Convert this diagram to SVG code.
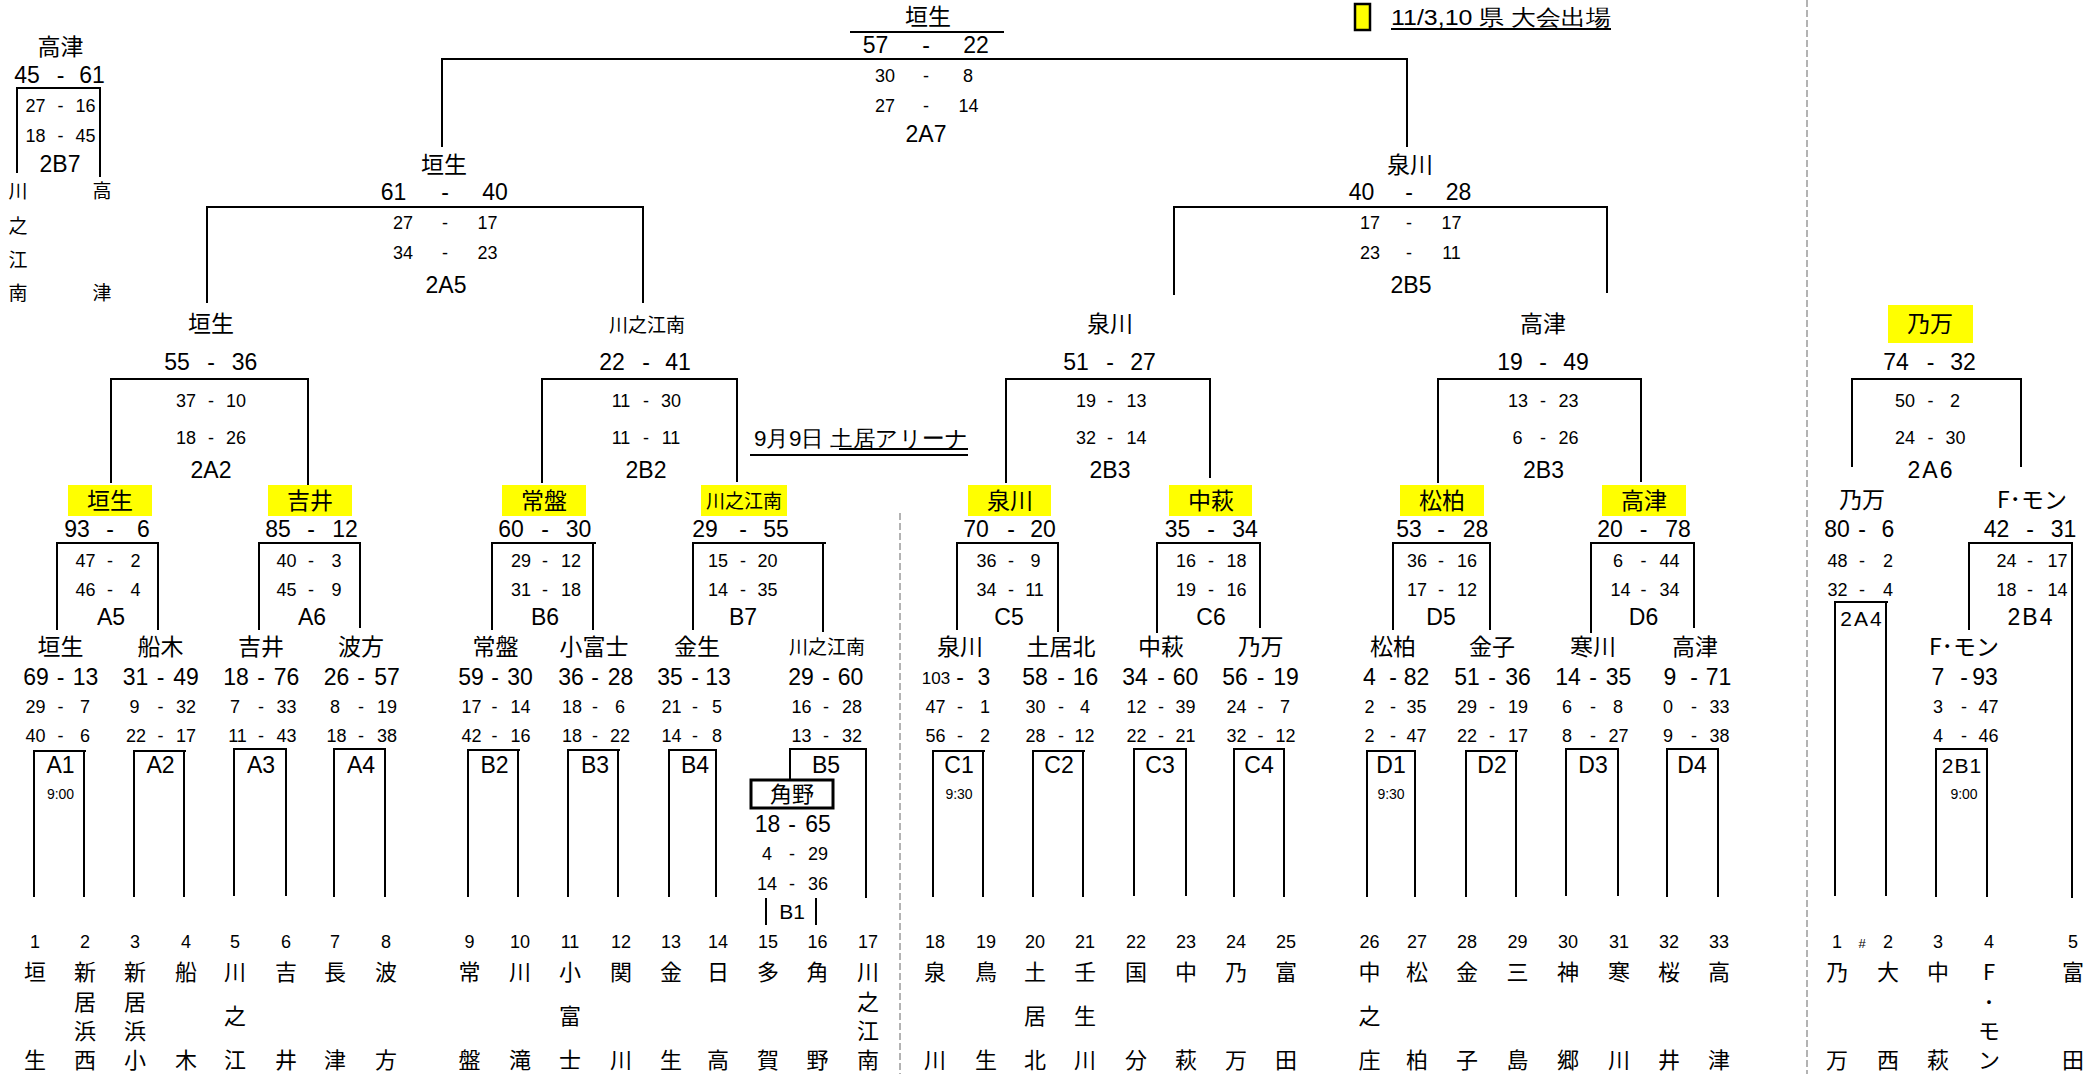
<svg xmlns="http://www.w3.org/2000/svg" width="2095" height="1074" viewBox="0 0 2095 1074">
<style>
text{fill:#000}
.n{font-family:"Liberation Sans Narrow","Liberation Sans",Arial,sans-serif;text-anchor:middle}
.b{font-size:23px}
.s{font-size:18px}
.t{font-size:14px}
.j{font-family:"Noto Sans CJK JP","Liberation Sans",sans-serif;font-size:23px;text-anchor:middle}
.js{font-family:"Noto Sans CJK JP","Liberation Sans",sans-serif;font-size:19px;text-anchor:middle}
.v{font-family:"Noto Sans CJK JP","Liberation Sans",sans-serif;font-size:22px;text-anchor:middle}
.ln{stroke:#000;stroke-width:2;fill:none}
.hl{fill:#ffff00}
.dv{stroke:#9a9a9a;stroke-width:1.5;stroke-dasharray:7 3;fill:none}
</style>
<rect width="2095" height="1074" fill="#fff"/>

<g id="dividers">
<path class="dv" d="M1807 0V1074"/>
<path class="dv" d="M900 513V1074"/>
</g>

<g id="legend">
<rect x="1355" y="4" width="15" height="26" fill="#ffff00" stroke="#000" stroke-width="2.5"/>
<text class="n" style="font-size:22px;text-anchor:start" x="1391" y="25" textLength="220" lengthAdjust="spacingAndGlyphs">11/3,10  県 大会出場</text>
<path class="ln" d="M1391 29H1611" stroke-width="1.8"/>
</g>

<g id="venue">
<text class="n" style="font-size:22px;text-anchor:start" x="754" y="446" textLength="214" lengthAdjust="spacingAndGlyphs">9月9日  土居アリーナ</text>
<path class="ln" d="M839 449H968" stroke-width="1.5"/>
<path class="ln" d="M750 455H968" stroke-width="3"/>
</g>

<g id="connectors">
<path class="ln" d="M442 147V59H1407V147" stroke-width="2.5"/>
<path class="ln" d="M17 173V88H101M100 88V177"/>
<path class="ln" d="M207 303V207H643V303"/>
<path class="ln" d="M1174 295V207H1607V293"/>
<path class="ln" d="M111 483V379H308V485"/>
<path class="ln" d="M542 483V379H737V482"/>
<path class="ln" d="M1006 483V379H1210V478"/>
<path class="ln" d="M1438 483V379H1641V482"/>
<path class="ln" d="M1852 467V379H2021V467"/>
<path class="ln" d="M57 630V543H158V630"/>
<path class="ln" d="M259 630V543H360V628"/>
<path class="ln" d="M492 630V543H596M593 543V630"/>
<path class="ln" d="M693 630V543H826M823 543V632"/>
<path class="ln" d="M957 630V543H1058V632"/>
<path class="ln" d="M1157 633V543H1260V628"/>
<path class="ln" d="M1393 630V543H1490V630"/>
<path class="ln" d="M1591 633V543H1694V628"/>
<path class="ln" d="M1835 896V602H1888M1886 602V896"/>
<path class="ln" d="M1969 630V543H2072V898"/>
<path class="ln" d="M34 897V751H86M84 751V897"/>
<path class="ln" d="M134 897V751H186M184 751V897"/>
<path class="ln" d="M234 896V749H286V896"/>
<path class="ln" d="M334 897V749H385V897"/>
<path class="ln" d="M468 897V750H520M518 750V897"/>
<path class="ln" d="M568 897V750H620M618 750V897"/>
<path class="ln" d="M669 897V750H717M716 750V897"/>
<path class="ln" d="M790 779V749H867M866 749V898"/>
<path class="ln" d="M766 898V925M816 898V925"/>
<path class="ln" d="M933 897V751H985M983 751V897"/>
<path class="ln" d="M1033 897V751H1085M1083 751V897"/>
<path class="ln" d="M1134 896V749H1186V896"/>
<path class="ln" d="M1234 897V749H1284V897"/>
<path class="ln" d="M1367 897V751H1416M1415 751V897"/>
<path class="ln" d="M1466 897V751H1518M1516 751V897"/>
<path class="ln" d="M1566 896V749H1618V896"/>
<path class="ln" d="M1667 897V749H1718V897"/>
<path class="ln" d="M1936 897V749H1987V897"/>
</g>

<g id="final">
<text class="j" x="928" y="25">垣生</text>
<path class="ln" d="M850 32H1004" stroke-width="3"/>
<text class="n b" y="53"><tspan x="875.5">57</tspan><tspan x="926">-</tspan><tspan x="976">22</tspan></text>
<text class="n s" y="82"><tspan x="885">30</tspan><tspan x="926">-</tspan><tspan x="968">8</tspan></text>
<text class="n s" y="112"><tspan x="885">27</tspan><tspan x="926">-</tspan><tspan x="968.5">14</tspan></text>
<text class="n b" x="926" y="142">2A7</text>
</g>

<g id="m2B7">
<text class="j" x="60.5" y="55">高津</text>
<text class="n b" y="83"><tspan x="27">45</tspan><tspan x="60.5">-</tspan><tspan x="92">61</tspan></text>
<text class="n s" y="112"><tspan x="35.5">27</tspan><tspan x="60.5">-</tspan><tspan x="85.5">16</tspan></text>
<text class="n s" y="142"><tspan x="35.5">18</tspan><tspan x="60.5">-</tspan><tspan x="85.5">45</tspan></text>
<text class="n b" x="60" y="172">2B7</text>
<text class="js"><tspan x="18" y="198">川</tspan><tspan x="18" y="233">之</tspan><tspan x="18" y="267">江</tspan><tspan x="18" y="300">南</tspan></text>
<text class="js"><tspan x="102" y="198">高</tspan><tspan x="102" y="300">津</tspan></text>
</g>

<g id="m2A5">
<text class="j" x="444" y="173">垣生</text>
<text class="n b" y="200"><tspan x="393.5">61</tspan><tspan x="445">-</tspan><tspan x="495">40</tspan></text>
<text class="n s" y="229"><tspan x="403">27</tspan><tspan x="445">-</tspan><tspan x="487.5">17</tspan></text>
<text class="n s" y="259"><tspan x="403">34</tspan><tspan x="445">-</tspan><tspan x="487.5">23</tspan></text>
<text class="n b" x="446" y="293">2A5</text>
</g>

<g id="m2B5">
<text class="j" x="1410" y="173">泉川</text>
<text class="n b" y="200"><tspan x="1361.5">40</tspan><tspan x="1409">-</tspan><tspan x="1458.5">28</tspan></text>
<text class="n s" y="229"><tspan x="1370">17</tspan><tspan x="1409">-</tspan><tspan x="1451.5">17</tspan></text>
<text class="n s" y="259"><tspan x="1370">23</tspan><tspan x="1409">-</tspan><tspan x="1451.5">11</tspan></text>
<text class="n b" x="1411" y="293">2B5</text>
</g>

<g id="m2A2">
<text class="j" x="211" y="332">垣生</text>
<text class="n b" y="370"><tspan x="177">55</tspan><tspan x="211">-</tspan><tspan x="244.5">36</tspan></text>
<text class="n s" y="407"><tspan x="186">37</tspan><tspan x="211">-</tspan><tspan x="236">10</tspan></text>
<text class="n s" y="444"><tspan x="186">18</tspan><tspan x="211">-</tspan><tspan x="236">26</tspan></text>
<text class="n b" x="211" y="478">2A2</text>
</g>

<g id="m2B2">
<text class="js" x="647" y="332">川之江南</text>
<text class="n b" y="370"><tspan x="612">22</tspan><tspan x="646">-</tspan><tspan x="678">41</tspan></text>
<text class="n s" y="407"><tspan x="621">11</tspan><tspan x="646">-</tspan><tspan x="671">30</tspan></text>
<text class="n s" y="444"><tspan x="621">11</tspan><tspan x="646">-</tspan><tspan x="671">11</tspan></text>
<text class="n b" x="646" y="478">2B2</text>
</g>

<g id="m2B3a">
<text class="j" x="1110" y="332">泉川</text>
<text class="n b" y="370"><tspan x="1076">51</tspan><tspan x="1110">-</tspan><tspan x="1143">27</tspan></text>
<text class="n s" y="407"><tspan x="1086">19</tspan><tspan x="1110">-</tspan><tspan x="1136.5">13</tspan></text>
<text class="n s" y="444"><tspan x="1086">32</tspan><tspan x="1110">-</tspan><tspan x="1136.5">14</tspan></text>
<text class="n b" x="1110" y="478">2B3</text>
</g>

<g id="m2B3b">
<text class="j" x="1543" y="332">高津</text>
<text class="n b" y="370"><tspan x="1510">19</tspan><tspan x="1543">-</tspan><tspan x="1576">49</tspan></text>
<text class="n s" y="407"><tspan x="1518">13</tspan><tspan x="1543">-</tspan><tspan x="1568.5">23</tspan></text>
<text class="n s" y="444"><tspan x="1517.5">6</tspan><tspan x="1543">-</tspan><tspan x="1568.5">26</tspan></text>
<text class="n b" x="1543.5" y="478">2B3</text>
</g>

<g id="m2A6">
<rect class="hl" x="1888" y="305" width="85" height="38"/>
<text class="j" x="1930" y="332">乃万</text>
<text class="n b" y="370"><tspan x="1896">74</tspan><tspan x="1930.5">-</tspan><tspan x="1963">32</tspan></text>
<text class="n s" y="407"><tspan x="1905">50</tspan><tspan x="1930.5">-</tspan><tspan x="1955">2</tspan></text>
<text class="n s" y="444"><tspan x="1905">24</tspan><tspan x="1930.5">-</tspan><tspan x="1955.5">30</tspan></text>
<text class="n b" x="1931" y="478" letter-spacing="2">2A6</text>
</g>

<g id="mA5">
<rect class="hl" x="68" y="485" width="84" height="31"/>
<text class="j" x="110" y="509">垣生</text>
<text class="n b" y="537"><tspan x="77">93</tspan><tspan x="110">-</tspan><tspan x="143.5">6</tspan></text>
<text class="n s" y="567"><tspan x="85.5">47</tspan><tspan x="110">-</tspan><tspan x="135.5">2</tspan></text>
<text class="n s" y="596"><tspan x="85.5">46</tspan><tspan x="110">-</tspan><tspan x="135.5">4</tspan></text>
<text class="n b" x="111" y="625">A5</text>
</g>
<g id="mA6">
<rect class="hl" x="268" y="485" width="84" height="31"/>
<text class="j" x="310" y="509">吉井</text>
<text class="n b" y="537"><tspan x="278">85</tspan><tspan x="311">-</tspan><tspan x="345">12</tspan></text>
<text class="n s" y="567"><tspan x="286.5">40</tspan><tspan x="311">-</tspan><tspan x="336.5">3</tspan></text>
<text class="n s" y="596"><tspan x="286.5">45</tspan><tspan x="311">-</tspan><tspan x="336.5">9</tspan></text>
<text class="n b" x="312" y="625">A6</text>
</g>
<g id="mB6">
<rect class="hl" x="502" y="485" width="84" height="31"/>
<text class="j" x="544" y="509">常盤</text>
<text class="n b" y="537"><tspan x="511">60</tspan><tspan x="545">-</tspan><tspan x="578.5">30</tspan></text>
<text class="n s" y="567"><tspan x="521">29</tspan><tspan x="545">-</tspan><tspan x="571">12</tspan></text>
<text class="n s" y="596"><tspan x="521">31</tspan><tspan x="545">-</tspan><tspan x="571">18</tspan></text>
<text class="n b" x="545" y="625">B6</text>
</g>
<g id="mB7">
<rect class="hl" x="701" y="485" width="86" height="31"/>
<text class="js" x="744" y="508">川之江南</text>
<text class="n b" y="537"><tspan x="705">29</tspan><tspan x="743">-</tspan><tspan x="776">55</tspan></text>
<text class="n s" y="567"><tspan x="718">15</tspan><tspan x="743">-</tspan><tspan x="767.5">20</tspan></text>
<text class="n s" y="596"><tspan x="718">14</tspan><tspan x="743">-</tspan><tspan x="767.5">35</tspan></text>
<text class="n b" x="743" y="625">B7</text>
</g>
<g id="mC5">
<rect class="hl" x="968" y="485" width="83" height="31"/>
<text class="j" x="1010" y="509">泉川</text>
<text class="n b" y="537"><tspan x="976">70</tspan><tspan x="1011">-</tspan><tspan x="1043">20</tspan></text>
<text class="n s" y="567"><tspan x="986.5">36</tspan><tspan x="1011">-</tspan><tspan x="1035.5">9</tspan></text>
<text class="n s" y="596"><tspan x="986.5">34</tspan><tspan x="1011">-</tspan><tspan x="1034.5">11</tspan></text>
<text class="n b" x="1009" y="625">C5</text>
</g>
<g id="mC6">
<rect class="hl" x="1169" y="485" width="83" height="31"/>
<text class="j" x="1211" y="509">中萩</text>
<text class="n b" y="537"><tspan x="1177.5">35</tspan><tspan x="1211">-</tspan><tspan x="1245">34</tspan></text>
<text class="n s" y="567"><tspan x="1186">16</tspan><tspan x="1211">-</tspan><tspan x="1236.5">18</tspan></text>
<text class="n s" y="596"><tspan x="1186">19</tspan><tspan x="1211">-</tspan><tspan x="1236.5">16</tspan></text>
<text class="n b" x="1211" y="625">C6</text>
</g>
<g id="mD5">
<rect class="hl" x="1400" y="485" width="84" height="31"/>
<text class="j" x="1442" y="509">松柏</text>
<text class="n b" y="537"><tspan x="1409">53</tspan><tspan x="1441">-</tspan><tspan x="1475.5">28</tspan></text>
<text class="n s" y="567"><tspan x="1417">36</tspan><tspan x="1441">-</tspan><tspan x="1467">16</tspan></text>
<text class="n s" y="596"><tspan x="1417">17</tspan><tspan x="1441">-</tspan><tspan x="1467">12</tspan></text>
<text class="n b" x="1441" y="625">D5</text>
</g>
<g id="mD6">
<rect class="hl" x="1602" y="485" width="84" height="31"/>
<text class="j" x="1644" y="509">高津</text>
<text class="n b" y="537"><tspan x="1610">20</tspan><tspan x="1643.5">-</tspan><tspan x="1678">78</tspan></text>
<text class="n s" y="567"><tspan x="1618">6</tspan><tspan x="1643.5">-</tspan><tspan x="1669.5">44</tspan></text>
<text class="n s" y="596"><tspan x="1620.5">14</tspan><tspan x="1643.5">-</tspan><tspan x="1669.5">34</tspan></text>
<text class="n b" x="1643.5" y="625">D6</text>
</g>
<g id="m2A4">
<text class="j" x="1862" y="508">乃万</text>
<text class="n b" y="537"><tspan x="1837">80</tspan><tspan x="1862">-</tspan><tspan x="1888">6</tspan></text>
<text class="n s" y="567"><tspan x="1837.5">48</tspan><tspan x="1862">-</tspan><tspan x="1888">2</tspan></text>
<text class="n s" y="596"><tspan x="1837.5">32</tspan><tspan x="1862">-</tspan><tspan x="1888">4</tspan></text>
<text class="n" style="font-size:21px" x="1862" y="626" letter-spacing="2">2A4</text>
</g>
<g id="m2B4">
<text class="j" x="2032" y="508">F･モン</text>
<text class="n b" y="537"><tspan x="1996.5">42</tspan><tspan x="2030">-</tspan><tspan x="2063.5">31</tspan></text>
<text class="n s" y="567"><tspan x="2006.5">24</tspan><tspan x="2030">-</tspan><tspan x="2057.5">17</tspan></text>
<text class="n s" y="596"><tspan x="2006.5">18</tspan><tspan x="2030">-</tspan><tspan x="2057.5">14</tspan></text>
<text class="n b" x="2031" y="625" letter-spacing="2">2B4</text>
</g>

<g id="round1">
<text class="j" y="655"><tspan x="60.5">垣生</tspan><tspan x="160.5">船木</tspan><tspan x="261">吉井</tspan><tspan x="361">波方</tspan><tspan x="495.5">常盤</tspan><tspan x="594">小富士</tspan><tspan x="697">金生</tspan><tspan x="960">泉川</tspan><tspan x="1061">土居北</tspan><tspan x="1161">中萩</tspan><tspan x="1260.5">乃万</tspan><tspan x="1393">松柏</tspan><tspan x="1492">金子</tspan><tspan x="1593">寒川</tspan><tspan x="1695">高津</tspan><tspan x="1964">F･モン</tspan></text>
<text class="js" x="827" y="654">川之江南</text>
<text class="n b" y="685"><tspan x="36">69</tspan><tspan x="60.5">-</tspan><tspan x="85.5">13</tspan><tspan x="135.5">31</tspan><tspan x="160.5">-</tspan><tspan x="186">49</tspan><tspan x="236">18</tspan><tspan x="261">-</tspan><tspan x="286.5">76</tspan><tspan x="336.5">26</tspan><tspan x="361">-</tspan><tspan x="387">57</tspan><tspan x="471">59</tspan><tspan x="495">-</tspan><tspan x="520">30</tspan><tspan x="571">36</tspan><tspan x="595">-</tspan><tspan x="620.5">28</tspan><tspan x="670">35</tspan><tspan x="695">-</tspan><tspan x="718">13</tspan><tspan x="801">29</tspan><tspan x="826">-</tspan><tspan x="850.5">60</tspan><tspan x="960">-</tspan><tspan x="984">3</tspan><tspan x="1035">58</tspan><tspan x="1061">-</tspan><tspan x="1085.5">16</tspan><tspan x="1135">34</tspan><tspan x="1161">-</tspan><tspan x="1185.5">60</tspan><tspan x="1235">56</tspan><tspan x="1260.5">-</tspan><tspan x="1286">19</tspan><tspan x="1369.5">4</tspan><tspan x="1393">-</tspan><tspan x="1416.5">82</tspan><tspan x="1467">51</tspan><tspan x="1492">-</tspan><tspan x="1518">36</tspan><tspan x="1568">14</tspan><tspan x="1593">-</tspan><tspan x="1618.5">35</tspan><tspan x="1670">9</tspan><tspan x="1694">-</tspan><tspan x="1718.5">71</tspan><tspan x="1938">7</tspan><tspan x="1964">-</tspan><tspan x="1985">93</tspan></text>
<text class="n" style="font-size:17px" x="936" y="684">103</text>
<text class="n s" y="713"><tspan x="35.5">29</tspan><tspan x="60.5">-</tspan><tspan x="85">7</tspan><tspan x="134.5">9</tspan><tspan x="160.5">-</tspan><tspan x="186">32</tspan><tspan x="235">7</tspan><tspan x="261">-</tspan><tspan x="286.5">33</tspan><tspan x="335">8</tspan><tspan x="361">-</tspan><tspan x="387">19</tspan><tspan x="471.5">17</tspan><tspan x="494.6">-</tspan><tspan x="520.5">14</tspan><tspan x="572">18</tspan><tspan x="595">-</tspan><tspan x="620">6</tspan><tspan x="671.5">21</tspan><tspan x="695">-</tspan><tspan x="717">5</tspan><tspan x="801.5">16</tspan><tspan x="826">-</tspan><tspan x="852">28</tspan><tspan x="935.5">47</tspan><tspan x="960">-</tspan><tspan x="985">1</tspan><tspan x="1035.5">30</tspan><tspan x="1061">-</tspan><tspan x="1085">4</tspan><tspan x="1136.5">12</tspan><tspan x="1161">-</tspan><tspan x="1185.5">39</tspan><tspan x="1236.5">24</tspan><tspan x="1260.5">-</tspan><tspan x="1285">7</tspan><tspan x="1369.5">2</tspan><tspan x="1393">-</tspan><tspan x="1416.5">35</tspan><tspan x="1467">29</tspan><tspan x="1492">-</tspan><tspan x="1518">19</tspan><tspan x="1567">6</tspan><tspan x="1593">-</tspan><tspan x="1618">8</tspan><tspan x="1668">0</tspan><tspan x="1694">-</tspan><tspan x="1719.5">33</tspan><tspan x="1938">3</tspan><tspan x="1964">-</tspan><tspan x="1988.5">47</tspan></text>
<text class="n s" y="742"><tspan x="35.5">40</tspan><tspan x="60.5">-</tspan><tspan x="85">6</tspan><tspan x="136">22</tspan><tspan x="160.5">-</tspan><tspan x="186">17</tspan><tspan x="237.5">11</tspan><tspan x="261">-</tspan><tspan x="286.5">43</tspan><tspan x="336.5">18</tspan><tspan x="361">-</tspan><tspan x="387">38</tspan><tspan x="471.5">42</tspan><tspan x="494.6">-</tspan><tspan x="520.5">16</tspan><tspan x="572">18</tspan><tspan x="595">-</tspan><tspan x="620">22</tspan><tspan x="671.5">14</tspan><tspan x="695">-</tspan><tspan x="717">8</tspan><tspan x="801.5">13</tspan><tspan x="826">-</tspan><tspan x="852">32</tspan><tspan x="935.5">56</tspan><tspan x="960">-</tspan><tspan x="985">2</tspan><tspan x="1035.5">28</tspan><tspan x="1061">-</tspan><tspan x="1084.5">12</tspan><tspan x="1136.5">22</tspan><tspan x="1161">-</tspan><tspan x="1185.5">21</tspan><tspan x="1236.5">32</tspan><tspan x="1260.5">-</tspan><tspan x="1285.5">12</tspan><tspan x="1369.5">2</tspan><tspan x="1393">-</tspan><tspan x="1416.5">47</tspan><tspan x="1467">22</tspan><tspan x="1492">-</tspan><tspan x="1518">17</tspan><tspan x="1567">8</tspan><tspan x="1593">-</tspan><tspan x="1618.5">27</tspan><tspan x="1668">9</tspan><tspan x="1694">-</tspan><tspan x="1719.5">38</tspan><tspan x="1938">4</tspan><tspan x="1964">-</tspan><tspan x="1988.5">46</tspan></text>
<text class="n b" y="773"><tspan x="60.5">A1</tspan><tspan x="160.5">A2</tspan><tspan x="261">A3</tspan><tspan x="361">A4</tspan><tspan x="494.6">B2</tspan><tspan x="595">B3</tspan><tspan x="695">B4</tspan><tspan x="826">B5</tspan><tspan x="959">C1</tspan><tspan x="1059">C2</tspan><tspan x="1160">C3</tspan><tspan x="1259">C4</tspan><tspan x="1391">D1</tspan><tspan x="1492">D2</tspan><tspan x="1593">D3</tspan><tspan x="1692">D4</tspan></text>
<text class="n" style="font-size:21px" x="1962" y="773" letter-spacing="1">2B1</text>
<text class="n t" y="799"><tspan x="60.5">9:00</tspan><tspan x="959">9:30</tspan><tspan x="1391">9:30</tspan><tspan x="1964">9:00</tspan></text>
</g>

<g id="mB1">
<rect x="751" y="780" width="82" height="28" fill="none" stroke="#000" stroke-width="3"/>
<text class="j" style="font-size:22px" x="792" y="802">角野</text>
<text class="n b" y="832"><tspan x="767.5">18</tspan><tspan x="792">-</tspan><tspan x="818">65</tspan></text>
<text class="n s" y="860"><tspan x="767">4</tspan><tspan x="792">-</tspan><tspan x="818">29</tspan></text>
<text class="n s" y="890"><tspan x="767">14</tspan><tspan x="792">-</tspan><tspan x="818">36</tspan></text>
<text class="n" style="font-size:21px" x="792" y="919">B1</text>
</g>

<g id="numbers">
<text class="n s" y="948"><tspan x="35">1</tspan><tspan x="85">2</tspan><tspan x="135">3</tspan><tspan x="186">4</tspan><tspan x="235">5</tspan><tspan x="286">6</tspan><tspan x="335">7</tspan><tspan x="386">8</tspan><tspan x="469.5">9</tspan><tspan x="520">10</tspan><tspan x="570">11</tspan><tspan x="621">12</tspan><tspan x="671">13</tspan><tspan x="718">14</tspan><tspan x="768">15</tspan><tspan x="817.5">16</tspan><tspan x="868">17</tspan><tspan x="935">18</tspan><tspan x="986">19</tspan><tspan x="1035">20</tspan><tspan x="1085">21</tspan><tspan x="1136">22</tspan><tspan x="1186">23</tspan><tspan x="1236">24</tspan><tspan x="1286">25</tspan><tspan x="1369.5">26</tspan><tspan x="1417">27</tspan><tspan x="1467">28</tspan><tspan x="1517.5">29</tspan><tspan x="1568">30</tspan><tspan x="1619">31</tspan><tspan x="1669">32</tspan><tspan x="1719">33</tspan><tspan x="1837">1</tspan><tspan x="1888">2</tspan><tspan x="1938">3</tspan><tspan x="1989">4</tspan><tspan x="2073">5</tspan></text>
<text class="n" style="font-size:13px" x="1862" y="948">#</text>
</g>

<g id="teams">
<text class="v" y="980"><tspan x="35">垣</tspan><tspan x="85">新</tspan><tspan x="135">新</tspan><tspan x="186">船</tspan><tspan x="235">川</tspan><tspan x="286">吉</tspan><tspan x="335">長</tspan><tspan x="386">波</tspan><tspan x="469.5">常</tspan><tspan x="520">川</tspan><tspan x="570">小</tspan><tspan x="621">関</tspan><tspan x="671">金</tspan><tspan x="718">日</tspan><tspan x="768">多</tspan><tspan x="817.5">角</tspan><tspan x="868">川</tspan><tspan x="935">泉</tspan><tspan x="986">鳥</tspan><tspan x="1035">土</tspan><tspan x="1085">壬</tspan><tspan x="1136">国</tspan><tspan x="1186">中</tspan><tspan x="1236">乃</tspan><tspan x="1286">富</tspan><tspan x="1369.5">中</tspan><tspan x="1417">松</tspan><tspan x="1467">金</tspan><tspan x="1517.5">三</tspan><tspan x="1568">神</tspan><tspan x="1619">寒</tspan><tspan x="1669">桜</tspan><tspan x="1719">高</tspan><tspan x="1837">乃</tspan><tspan x="1888">大</tspan><tspan x="1938">中</tspan><tspan x="1989">F</tspan><tspan x="2073">富</tspan></text>
<text class="v" y="1010"><tspan x="85">居</tspan><tspan x="135">居</tspan><tspan x="868">之</tspan><tspan x="1989">･</tspan></text>
<text class="v" y="1024"><tspan x="235">之</tspan><tspan x="570">富</tspan><tspan x="1035">居</tspan><tspan x="1085">生</tspan><tspan x="1369.5">之</tspan></text>
<text class="v" y="1039"><tspan x="85">浜</tspan><tspan x="135">浜</tspan><tspan x="868">江</tspan><tspan x="1989">モ</tspan></text>
<text class="v" y="1068"><tspan x="35">生</tspan><tspan x="85">西</tspan><tspan x="135">小</tspan><tspan x="186">木</tspan><tspan x="235">江</tspan><tspan x="286">井</tspan><tspan x="335">津</tspan><tspan x="386">方</tspan><tspan x="469.5">盤</tspan><tspan x="520">滝</tspan><tspan x="570">士</tspan><tspan x="621">川</tspan><tspan x="671">生</tspan><tspan x="718">高</tspan><tspan x="768">賀</tspan><tspan x="817.5">野</tspan><tspan x="868">南</tspan><tspan x="935">川</tspan><tspan x="986">生</tspan><tspan x="1035">北</tspan><tspan x="1085">川</tspan><tspan x="1136">分</tspan><tspan x="1186">萩</tspan><tspan x="1236">万</tspan><tspan x="1286">田</tspan><tspan x="1369.5">庄</tspan><tspan x="1417">柏</tspan><tspan x="1467">子</tspan><tspan x="1517.5">島</tspan><tspan x="1568">郷</tspan><tspan x="1619">川</tspan><tspan x="1669">井</tspan><tspan x="1719">津</tspan><tspan x="1837">万</tspan><tspan x="1888">西</tspan><tspan x="1938">萩</tspan><tspan x="1989">ン</tspan><tspan x="2073">田</tspan></text>
</g>
</svg>
